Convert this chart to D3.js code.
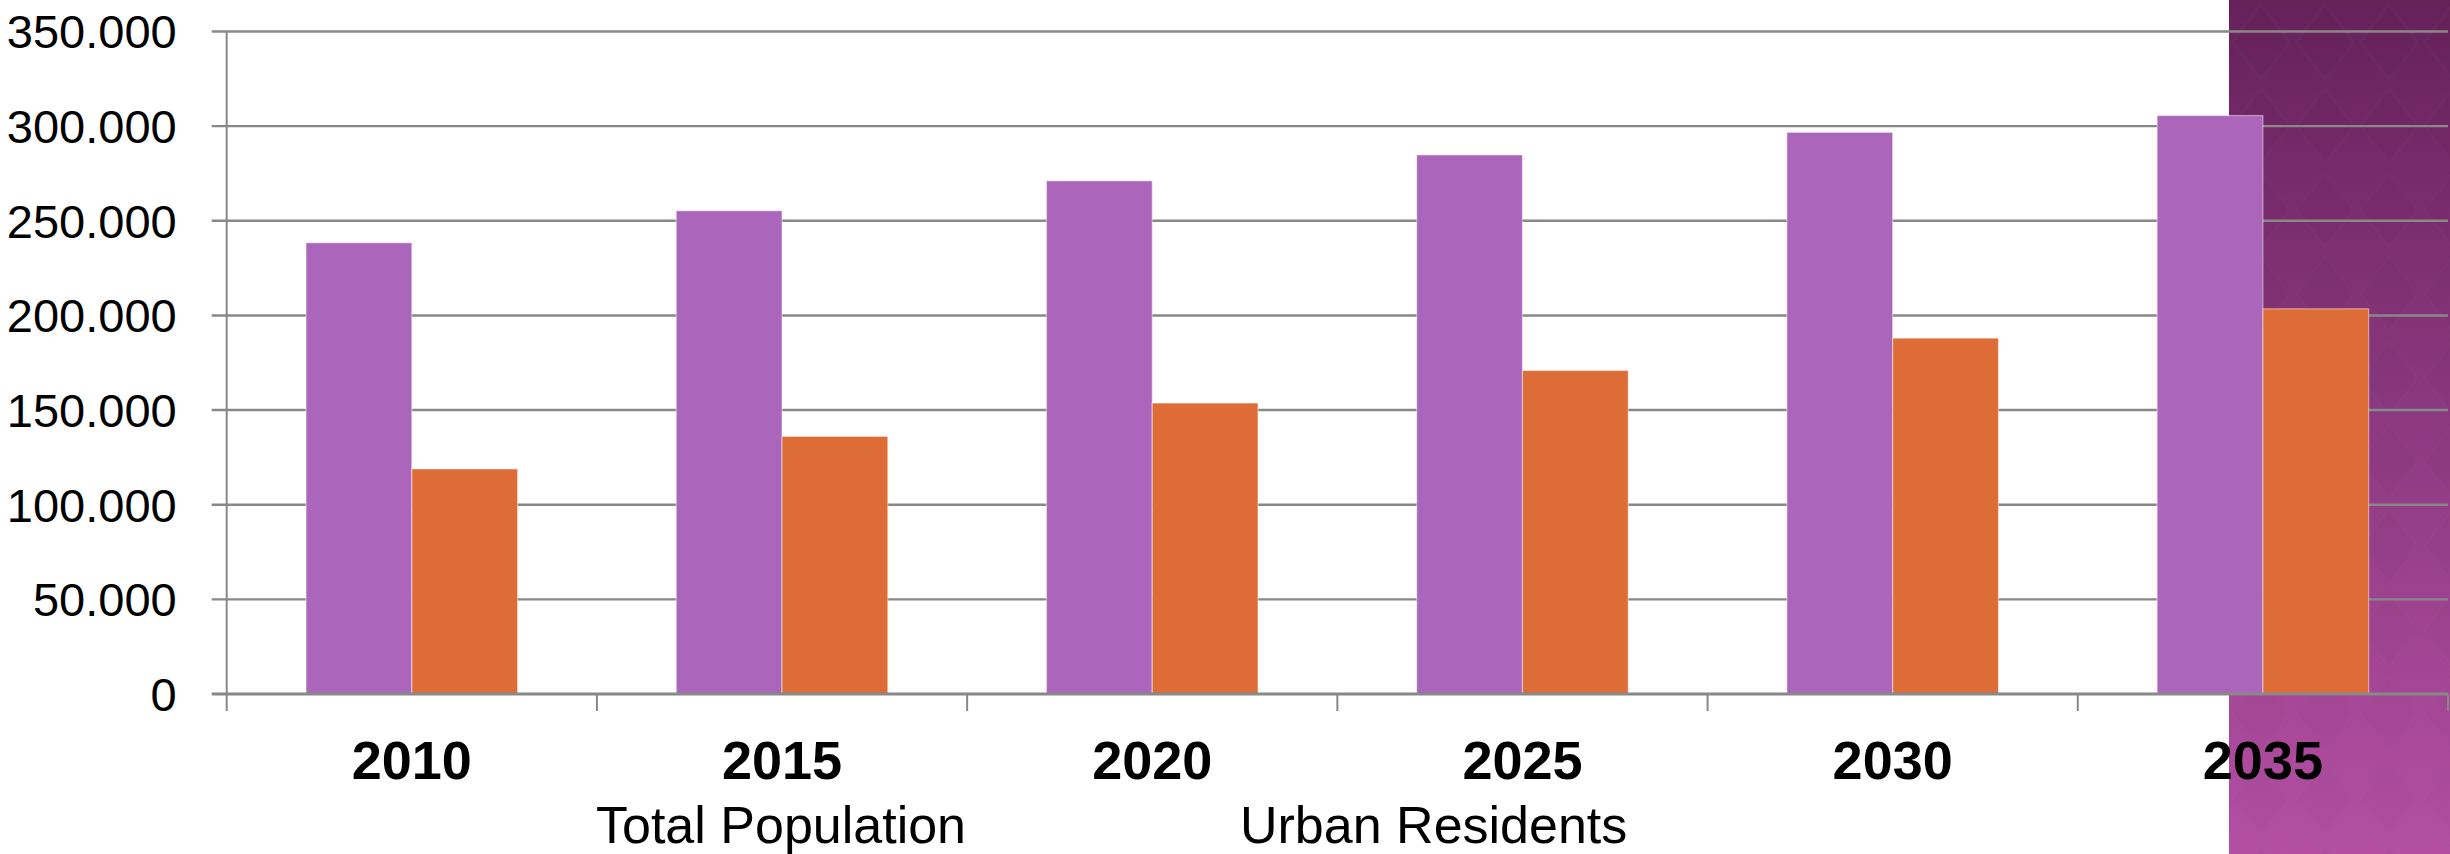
<!DOCTYPE html>
<html>
<head>
<meta charset="utf-8">
<script src="https://cdn.jsdelivr.net/npm/d3@7"></script>
<style>
  html, body { margin: 0; padding: 0; background: #ffffff; }
  svg { display: block; }
</style>
</head>
<body>
<svg id="chart" width="2450" height="854"></svg>
<script>
// ---- data ----
const years = ["2010", "2015", "2020", "2025", "2030", "2035"];
const seriesNames = ["Total Population", "Urban Residents"];
const totalPopulation = [238400, 255300, 271100, 284800, 296700, 305600];
const urbanResidents = [118900, 136100, 153700, 170900, 188000, 203500];
const yTicks = [0, 50000, 100000, 150000, 200000, 250000, 300000, 350000];
const seriesColors = ["#AB66BB", "#DE6C36"];

(function () {
// ---- layout ----
const W = 2450, H = 854;
const plotLeft = 226.7, plotRight = 2448, plotTop = 31.5, plotBottom = 694;

const svg = d3.select("#chart");
const defs = svg.append("defs");

// decorative purple panel on the right
const grad = defs.append("linearGradient").attr("id", "panelGrad")
  .attr("x1", 0).attr("y1", 0).attr("x2", 0).attr("y2", 1);
grad.append("stop").attr("offset", "0%").attr("stop-color", "#66215b");
grad.append("stop").attr("offset", "45%").attr("stop-color", "#8a377d");
grad.append("stop").attr("offset", "100%").attr("stop-color", "#b44fa4");

const pat = defs.append("pattern").attr("id", "diamonds")
  .attr("patternUnits", "userSpaceOnUse").attr("width", 64).attr("height", 84)
  .attr("x", 2229).attr("y", 0);
pat.append("path").attr("d", "M32,0 L64,42 L32,84 L0,42 Z")
  .attr("fill", "#000").attr("fill-opacity", 0.02);
pat.append("path").attr("d", "M32,4 L61,42 L32,80 L3,42 Z")
  .attr("fill", "none").attr("stroke", "#fff").attr("stroke-opacity", 0.015).attr("stroke-width", 3);

svg.append("rect").attr("x", 2229).attr("y", 0).attr("width", W - 2229).attr("height", H)
  .attr("fill", "url(#panelGrad)");
svg.append("rect").attr("x", 2229).attr("y", 0).attr("width", W - 2229).attr("height", H)
  .attr("fill", "url(#diamonds)");

// ---- scales ----
const x0 = d3.scaleBand().domain(years).range([plotLeft, plotRight]).paddingInner(0).paddingOuter(0);
const x1 = d3.scaleBand().domain(seriesNames).range([0, x0.bandwidth()]).paddingInner(0).paddingOuter(0.75);
const y = d3.scaleLinear().domain([0, 350000]).range([plotBottom, plotTop]);

const locale = d3.formatLocale({ decimal: ",", thousands: ".", grouping: [3], currency: ["", ""] });
const fmt = locale.format(",");

const gridColor = "#888888";

// gridlines (extend 15px left of the axis as tick marks)
svg.append("g").selectAll("line").data(yTicks.filter(d => d > 0)).join("line")
  .attr("x1", plotLeft - 15).attr("x2", plotRight)
  .attr("y1", d => y(d)).attr("y2", d => y(d))
  .attr("stroke", gridColor).attr("stroke-width", 2.4);

// y-axis line
svg.append("line").attr("x1", plotLeft).attr("x2", plotLeft).attr("y1", y(350000)).attr("y2", y(0))
  .attr("stroke", gridColor).attr("stroke-width", 2);

// bars
const rows = years.map((yr, i) => ({ year: yr, values: [totalPopulation[i], urbanResidents[i]] }));
const groups = svg.append("g").selectAll("g").data(rows).join("g")
  .attr("transform", d => `translate(${x0(d.year)},0)`);
groups.selectAll("rect").data(d => d.values.map((v, j) => ({ s: seriesNames[j], v, j }))).join("rect")
  .attr("x", d => x1(d.s))
  .attr("width", x1.bandwidth())
  .attr("y", d => y(d.v))
  .attr("height", d => y(0) - y(d.v))
  .attr("fill", d => seriesColors[d.j])
  .attr("stroke", "rgba(255,255,255,0.45)")
  .attr("stroke-width", 1.2);

// x-axis line and ticks
svg.append("line").attr("x1", plotLeft - 15).attr("x2", plotRight).attr("y1", y(0)).attr("y2", y(0))
  .attr("stroke", gridColor).attr("stroke-width", 3);
const boundaries = years.map(d => x0(d)).concat([x0(years[years.length - 1]) + x0.bandwidth()]);
svg.append("g").selectAll("line").data(boundaries).join("line")
  .attr("x1", d => d).attr("x2", d => d)
  .attr("y1", y(0)).attr("y2", y(0) + 17)
  .attr("stroke", gridColor).attr("stroke-width", 2);

// y tick labels
svg.append("g").selectAll("text").data(yTicks).join("text")
  .attr("x", plotLeft - 50)
  .attr("y", d => y(d))
  .attr("dy", "0.36em")
  .attr("text-anchor", "end")
  .attr("font-family", "'Liberation Sans', Arial, sans-serif")
  .attr("font-size", 47)
  .attr("fill", "#000")
  .text(d => fmt(d));

// x labels
svg.append("g").selectAll("text").data(years).join("text")
  .attr("x", d => x0(d) + x0.bandwidth() / 2)
  .attr("y", 779)
  .attr("text-anchor", "middle")
  .attr("font-family", "'Liberation Sans', Arial, sans-serif")
  .attr("font-weight", "bold")
  .attr("font-size", 54)
  .attr("fill", "#000")
  .text(d => d);

// legend (text only)
const legendX = [596, 1240];
svg.append("g").selectAll("text").data(seriesNames).join("text")
  .attr("x", (d, i) => legendX[i])
  .attr("y", 843)
  .attr("font-family", "'Liberation Sans', Arial, sans-serif")
  .attr("font-size", 52)
  .attr("fill", "#000")
  .text(d => d);
})();
</script>
</body>
</html>
